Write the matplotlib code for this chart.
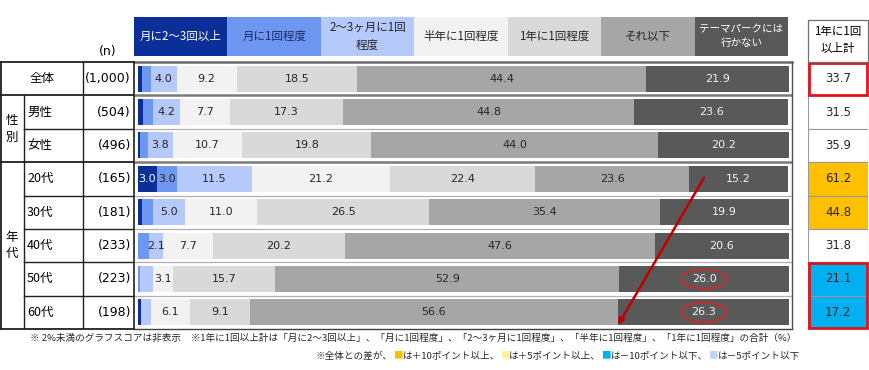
import matplotlib
matplotlib.use('Agg')
import matplotlib.pyplot as plt
from matplotlib.patches import Rectangle, Ellipse
from matplotlib.offsetbox import TextArea, HPacker, AnnotationBbox
import numpy as np

JP = ['Noto Sans CJK JP', 'DejaVu Sans']
NUM = ['DejaVu Sans', 'Noto Sans CJK JP']
plt.rcParams['font.family'] = NUM

# ---------------- data ----------------
groups = ['全体', '男性', '女性', '20代', '30代', '40代', '50代', '60代']
n_labels = ['(1,000)', '(504)', '(496)', '(165)', '(181)', '(233)', '(223)', '(198)']
categories = ['月に2〜3回以上', '月に1回程度', '2〜3ヶ月に1回\n程度', '半年に1回程度',
              '1年に1回程度', 'それ以下', 'テーマパークには\n行かない']
monthly_2_3 = [0.7, 0.9, 0.3, 3.0, 0.7, 0.0, 0.0, 0.5]
monthly_1 = [1.3, 1.4, 1.3, 3.0, 1.6, 1.8, 0.4, 0.0]
every_2_3_months = [4.0, 4.2, 3.8, 11.5, 5.0, 2.1, 1.9, 1.5]
half_year = [9.2, 7.7, 10.7, 21.2, 11.0, 7.7, 3.1, 6.1]
once_a_year = [18.5, 17.3, 19.8, 22.4, 26.5, 20.2, 15.7, 9.1]
less_often = [44.4, 44.8, 44.0, 23.6, 35.4, 47.6, 52.9, 56.6]
never_go = [21.9, 23.6, 20.2, 15.2, 19.9, 20.6, 26.0, 26.3]
once_a_year_or_more = [33.7, 31.5, 35.9, 61.2, 44.8, 31.8, 21.1, 17.2]

series = [monthly_2_3, monthly_1, every_2_3_months, half_year, once_a_year, less_often, never_go]
colors = ['#0b2f98', '#6e97f2', '#b5c9fa', '#f2f2f2', '#d9d9d9', '#a6a6a6', '#595959']
label_colors = ['white', '#262626', '#262626', '#262626', '#262626', '#262626', '#f2f2f2']
header_text_colors = ['white', '#1a2a66', '#262626', '#262626', '#262626', '#262626', 'white']
header_sizes = [8.3, 8.3, 8.3, 8.3, 8.3, 8.3, 7.6]

W, H = 870, 370
fig = plt.figure(figsize=(8.7, 3.7), dpi=100)
fig.patch.set_facecolor('white')


def fx(px):
    return px / W


def fy(py):
    return 1 - py / H


TOP, BOT = 62, 329
n = len(groups)
y = np.arange(n)

# ---------------- main bar axes ----------------
ax = fig.add_axes([fx(134), fy(BOT), fx(792) - fx(134), fy(TOP) - fy(BOT)])
ax.set_xlim(-0.55, 100.5)
ax.set_ylim(n - 0.5, -0.5)
ax.axis('off')

left = np.zeros(n)
for vals, col, tcol in zip(series, colors, label_colors):
    vals = np.array(vals, dtype=float)
    ax.barh(y, vals, left=left, height=0.78, color=col, edgecolor='none', zorder=2)
    for i in range(n):
        if vals[i] >= 2:
            ax.text(left[i] + vals[i] / 2, i, f'{vals[i]:.1f}', ha='center', va='center',
                    fontsize=8, color=tcol, zorder=4)
    left += vals

# row separators
for b in np.arange(0.5, n - 0.5, 1.0):
    thick = b in (0.5, 2.5)
    ax.axhline(b, color='#7a7a7a' if thick else '#b0b0b0', lw=1.8 if thick else 0.9, zorder=1)
ax.plot([0, 1], [1, 1], transform=ax.transAxes, color='#6a6a6a', lw=1.8, clip_on=False)
ax.plot([0, 1], [0, 0], transform=ax.transAxes, color='#404040', lw=1.0, clip_on=False)
ax.plot([0, 0], [0, 1], transform=ax.transAxes, color='#303030', lw=1.3, clip_on=False)
ax.plot([1, 1], [0, 1], transform=ax.transAxes, color='#505050', lw=1.0, clip_on=False)

# highlight ellipses around the 50s/60s "never go" values
start_never = left - np.array(never_go)
for i in (6, 7):
    cx = start_never[i] + never_go[i] / 2
    ax.add_patch(Ellipse((cx, i), width=7.0, height=0.58, fill=False,
                         ec='#d02828', lw=1.2, zorder=5))

# arrow from the 20s to the 60s
ax.annotate('', xy=(start_never[7], 7.38), xytext=(start_never[3] + 0.15 * never_go[3], 2.97),
            arrowprops=dict(arrowstyle='-|>', color='#c00000', lw=1.8,
                            mutation_scale=9, shrinkA=0, shrinkB=0), zorder=6)

# ---------------- left table ----------------
tab = fig.add_axes([0, fy(BOT), fx(134), fy(TOP) - fy(BOT)])
tab.set_xlim(0, 134)
tab.set_ylim(n - 0.5, -0.5)
tab.axis('off')
lc = '#202020'
tab.plot([1, 134], [-0.5, -0.5], color=lc, lw=1.3, clip_on=False)
tab.plot([1, 134], [n - 0.5, n - 0.5], color=lc, lw=1.3, clip_on=False)
tab.plot([1, 1], [-0.5, n - 0.5], color=lc, lw=1.3, clip_on=False)
tab.plot([83, 83], [-0.5, n - 0.5], color=lc, lw=1.0)
tab.plot([24, 24], [0.5, n - 0.5], color=lc, lw=1.0)
for b in np.arange(0.5, n - 0.5, 1.0):
    if b in (0.5, 2.5):
        tab.plot([1, 134], [b, b], color=lc, lw=1.3)
    else:
        tab.plot([24, 134], [b, b], color=lc, lw=1.0)

tab.text(42, 0, groups[0], ha='center', va='center', fontsize=9, family=JP)
for i in range(1, n):
    tab.text(27, i, groups[i], ha='left', va='center', fontsize=9, family=JP)
for i in range(n):
    tab.text(131, i, n_labels[i], ha='right', va='center', fontsize=9)
tab.text(12, 1.5, '性\n別', ha='center', va='center', fontsize=9, family=JP, linespacing=1.35)
tab.text(12, 5.0, '年\n代', ha='center', va='center', fontsize=9, family=JP, linespacing=1.35)
fig.text(fx(108), fy(52), '(n)', ha='center', va='center', fontsize=9)

# ---------------- header legend ----------------
lg = fig.add_axes([fx(134), fy(56), fx(788) - fx(134), fy(17) - fy(56)])
lg.set_xlim(0, len(categories))
lg.set_ylim(0, 1)
lg.axis('off')
lg.bar(np.arange(len(categories)), 1, width=1, align='edge', color=colors, edgecolor='none')
for i, (c, tc, fs) in enumerate(zip(categories, header_text_colors, header_sizes)):
    lg.text(i + 0.5, 0.5, c, ha='center', va='center', fontsize=fs, color=tc,
            family=JP, linespacing=1.45)

# ---------------- right column ----------------
total = once_a_year_or_more[0]
cell_colors = []
for v in once_a_year_or_more:
    d = v - total
    if d >= 10:
        cell_colors.append('#ffc000')
    elif d >= 5:
        cell_colors.append('#fff2a0')
    elif d <= -10:
        cell_colors.append('#00b0f0')
    elif d <= -5:
        cell_colors.append('#bdd7ee')
    else:
        cell_colors.append('white')

rc = fig.add_axes([fx(808), fy(BOT), fx(868) - fx(808), fy(TOP) - fy(BOT)])
rc.set_xlim(0, 1)
rc.set_ylim(n - 0.5, -0.5)
rc.axis('off')
rc.barh(y, 1, left=0, height=1, color=cell_colors, edgecolor='#9a9a9a', lw=0.8)
for i, v in enumerate(once_a_year_or_more):
    rc.text(0.5, i, f'{v:.1f}', ha='center', va='center', fontsize=8.5, color='#262626')
rc.add_patch(Rectangle((0.01, -0.47), 0.98, 0.95, fill=False, ec='#e0141e', lw=2.0,
                       clip_on=False, zorder=5))
rc.add_patch(Rectangle((0.01, 5.52), 0.98, 1.96, fill=False, ec='#e0141e', lw=2.0,
                       clip_on=False, zorder=5))

fig.patches.append(Rectangle((fx(808), fy(TOP)), fx(868) - fx(808), fy(20) - fy(TOP),
                             transform=fig.transFigure, fill=False, ec='#707070', lw=0.9))
fig.text(fx(838), fy(40), '1年に1回\n以上計', ha='center', va='center', fontsize=8.3,
         family=JP, linespacing=1.45)

# ---------------- footnotes ----------------
fig.text(fx(796), fy(338),
         '※ 2%未満のグラフスコアは非表示　※1年に1回以上計は「月に2〜3回以上」、「月に1回程度」、'
         '「2〜3ヶ月に1回程度」、「半年に1回程度」、「1年に1回程度」の合計（%）',
         ha='right', va='center', fontsize=6.9, family=JP, color='#262626')

parts = [('※全体との差が、', '#262626'), ('■', '#ffc000'), ('は＋10ポイント以上、', '#262626'),
         ('■', '#fff2a0'), ('は＋5ポイント以上、', '#262626'), ('■', '#00b0f0'),
         ('は－10ポイント以下、', '#262626'), ('■', '#bdd7ee'), ('は－5ポイント以下', '#262626')]
boxes = [TextArea(t, textprops=dict(color=c, fontsize=6.9, family=JP)) for t, c in parts]
pack = HPacker(children=boxes, align='center', pad=0, sep=0)
ab = AnnotationBbox(pack, (fx(800), fy(356)), xycoords='figure fraction',
                    box_alignment=(1, 0.5), frameon=False)
fig.add_artist(ab)

fig.savefig('out.png', dpi=100, facecolor='white')
